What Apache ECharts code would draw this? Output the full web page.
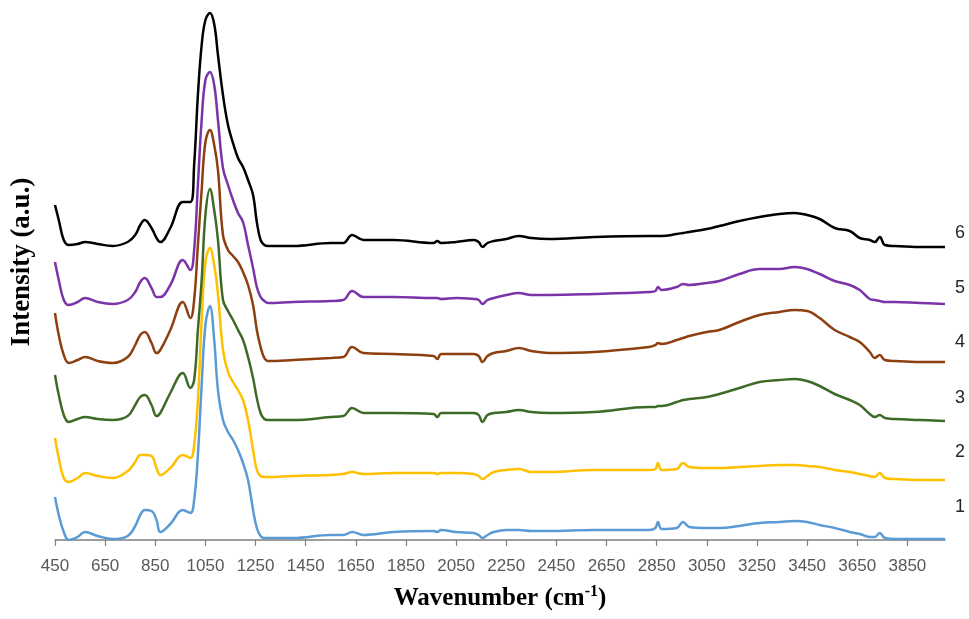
<!DOCTYPE html>
<html>
<head>
<meta charset="utf-8">
<script src="https://cdn.jsdelivr.net/npm/echarts@6/dist/echarts.min.js"></script>
<style>
html,body{margin:0;padding:0;background:#fff;}
#c{width:969px;height:619px;}
</style>
</head>
<body>
<div id="c"></div>
<script>
const wavenumber = [450,465,485,505,540,570,620,680,740,770,790,808,835,855,870,910,960,990,1005,1020,1035,1050,1068,1085,1100,1120,1140,1160,1180,1200,1220,1240,1255,1270,1285,1300,1400,1550,1600,1635,1680,1800,1960,1975,1990,2050,2120,2140,2155,2175,2200,2250,2300,2350,2420,2600,2820,2845,2855,2870,2930,2955,2980,3050,3100,3180,3260,3340,3400,3450,3500,3560,3620,3660,3700,3720,3740,3760,3800,3900,4000];

const s1 = [43,25,8,0,3,8,4,1,4,14,25,30,29,20,8,16,30,27,40,85,155,215,234,200,150,120,108,100,90,77,60,30,12,4,2,2,2,5,5,8,5,8,9,8,10,8,7,5,2,5,8,10,10,9,9,10,10,12,18,11,12,18,13,12,12,14,17,18,19,18,15,12,8,6,3,3,7,2,1,1,1];
const s2 = [102,82,62,58,62,67,64,62,69,78,85,85,84,72,65,72,85,82,95,140,220,278,292,275,246,190,168,158,150,140,120,90,70,64,63,63,64,65,66,68,66,67,67,66,67,67,66,64,61,64,68,70,71,68,68,70,70,71,77,70,71,77,73,72,72,73,74,75,75,74,73,70,68,66,64,63,67,62,61,60,60];
const s3 = [165,145,125,118,121,123,121,120,124,135,143,145,135,124,127,147,167,152,160,210,260,325,351,330,300,240,229,220,210,200,183,162,142,127,121,120,120,123,124,132,127,127,126,123,127,127,127,125,118,125,127,128,130,128,127,128,133,133,134,134,138,140,141,143,146,152,158,160,161,159,154,146,140,135,126,123,125,122,121,120,119];
const s4 = [227,205,185,177,180,183,179,177,183,195,205,208,197,187,190,210,238,222,240,295,350,398,410,395,370,305,290,284,278,268,255,235,210,193,182,179,180,182,183,193,187,186,184,181,186,186,186,184,178,184,187,189,192,189,187,188,193,195,197,196,200,202,204,208,210,218,225,228,230,229,222,210,203,198,188,182,185,180,179,178,178];
const s5 = [278,260,240,235,238,242,238,236,240,248,258,262,252,243,243,255,280,270,290,355,420,460,468,455,420,372,355,340,327,318,295,272,253,243,239,237,238,239,240,249,243,243,242,242,241,242,241,240,236,240,242,245,247,245,245,246,248,249,253,250,253,256,255,257,259,266,271,271,273,271,266,259,255,250,241,240,239,238,238,237,236];
const s6 = [335,320,300,295,296,298,296,294,298,305,315,320,312,302,298,312,338,338,375,445,495,520,527,516,485,445,415,397,382,373,360,345,318,300,295,294,294,297,297,305,300,300,297,299,297,298,300,298,293,297,299,301,304,302,301,303,304,304,304,304,306,307,308,311,314,319,323,326,327,325,321,312,309,302,300,298,303,295,294,293,293];

const seriesNames = ['1','2','3','4','5','6'];
const seriesColors = ['#5B9BD5','#FFC000','#3D6B27','#8E3F10','#7A33A8','#000000'];
const tickLabels = [450,650,850,1050,1250,1450,1650,1850,2050,2250,2450,2650,2850,3050,3250,3450,3650,3850];
const yTitle = 'Intensity (a.u.)';

const allSeries = [s1,s2,s3,s4,s5,s6];
const chart = echarts.init(document.getElementById('c'));

const series = allSeries.map((vals, i) => ({
  name: seriesNames[i],
  type: 'line',
  data: wavenumber.map((w, j) => [w, vals[j]]),
  showSymbol: false,
  smooth: 0.4,
  lineStyle: { color: seriesColors[i], width: 2.5 },
  itemStyle: { color: seriesColors[i] },
  z: 2 + i,
  silent: true
}));

const labelY = [508, 453, 399, 343, 289, 234];
const graphics = seriesNames.map((n, i) => ({
  type: 'text',
  left: 955,
  top: labelY[i] - 10,
  style: { text: n, fill: '#262626', font: '18px "Liberation Sans"' }
}));
graphics.push({
  type: 'text',
  x: 22,
  y: 262,
  rotation: Math.PI / 2,
  style: {
    text: yTitle,
    fill: '#000',
    font: 'bold 27px "Liberation Serif"',
    align: 'center',
    verticalAlign: 'middle'
  }
});

chart.setOption({
  animation: false,
  backgroundColor: '#ffffff',
  grid: { left: 55, right: 24, top: 10, bottom: 79 },
  xAxis: {
    type: 'value',
    min: 450,
    max: 4000,
    name: '{a|Wavenumber (cm}{s|-1}{a|)}',
    nameLocation: 'middle',
    nameGap: 44,
    nameTextStyle: {
      rich: {
        a: { fontFamily: 'Liberation Serif', fontWeight: 'bold', fontSize: 25, color: '#000' },
        s: { fontFamily: 'Liberation Serif', fontWeight: 'bold', fontSize: 16, color: '#000', padding: [0,0,14,0] }
      }
    },
    axisLine: { show: true, onZero: false, lineStyle: { color: '#7f7f7f', width: 1.5 } },
    axisTick: { show: true, length: 6, customValues: tickLabels, lineStyle: { color: '#7f7f7f', width: 1.2 } },
    axisLabel: { customValues: tickLabels, margin: 18, fontFamily: 'Liberation Sans', fontSize: 17, color: '#595959', formatter: v => String(v) },
    splitLine: { show: false }
  },
  yAxis: {
    type: 'value',
    min: 0,
    max: 530,
    axisLine: { show: false },
    axisTick: { show: false },
    axisLabel: { show: false },
    splitLine: { show: false }
  },
  graphic: graphics,
  series: series
});
</script>
</body>
</html>
